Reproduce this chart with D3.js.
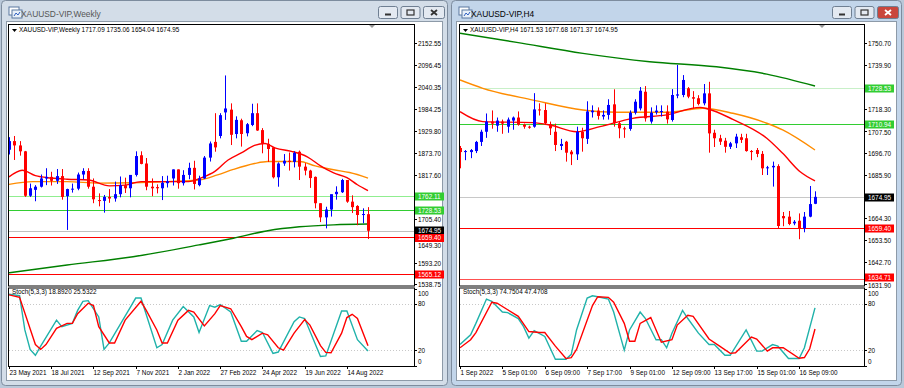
<!DOCTYPE html>
<html>
<head>
<meta charset="utf-8">
<script src="https://cdn.jsdelivr.net/npm/d3@7"></script>
<style>
  body { margin: 0; background: #b9c8d9; }
  svg { display: block; font-family: "Liberation Sans", Arial, sans-serif; }
</style>
</head>
<body>
<div id="plot"></div>
<script>
// ---- weekly chart data (23 May 2021 .. 11 Sep 2022) ----
const wkOpen  = [1881,1903,1892,1877,1764,1779,1787,1808,1812,1802,1814,1763,1780,1782,1818,1827,1787,1753,1751,1761,1757,1768,1791,1783,1817,1867,1846,1787,1786,1783,1796,1808,1831,1796,1817,1835,1791,1808,1861,1901,1916,1976,1983,1921,1956,1923,1944,1974,1931,1896,1887,1811,1846,1853,1850,1876,1838,1828,1812,1745,1709,1729,1768,1773,1804,1749,1738,1715,1717.09];
const wkHigh  = [1913,1916,1903,1878,1795,1791,1818,1834,1825,1832,1832,1782,1795,1823,1834,1834,1808,1770,1766,1781,1800,1813,1810,1815,1877,1877,1860,1808,1793,1814,1815,1831,1831,1829,1848,1853,1815,1865,1902,1974,1974,2070,1999,1966,1960,1949,1998,1999,1936,1909,1887,1849,1870,1874,1877,1879,1847,1830,1813,1745,1736,1767,1788,1807,1804,1765,1740,1732,1735.06];
const wkLow   = [1869,1855,1866,1761,1761,1750,1785,1791,1790,1794,1754,1677,1772,1778,1806,1782,1745,1737,1721,1746,1749,1760,1771,1760,1813,1844,1778,1763,1770,1753,1785,1790,1782,1790,1806,1780,1788,1807,1851,1876,1910,1957,1893,1910,1889,1915,1941,1929,1872,1850,1808,1787,1840,1828,1836,1804,1816,1784,1732,1697,1681,1711,1754,1771,1746,1720,1689,1694,1654.04];
const wkClose = [1903,1892,1877,1764,1783,1787,1808,1812,1802,1814,1761,1781,1782,1818,1827,1787,1755,1751,1761,1757,1768,1791,1783,1817,1865,1845,1787,1783,1783,1797,1801,1831,1796,1817,1835,1794,1808,1861,1897,1887,1969,1986,1919,1957,1921,1946,1974,1930,1897,1883,1811,1846,1853,1850,1873,1838,1828,1809,1745,1709,1729,1768,1774,1804,1749,1735,1715,1717.5,1674.95];

// moving averages: [bar index, price]
const wkMaRed    = [[0,1812],[2.5,1829],[5,1815],[8,1809],[11,1806],[15,1804],[19,1789],[22,1791],[25,1800],[29,1800],[34,1800],[36.5,1810],[39,1826],[41.5,1855],[44,1873],[46.5,1892],[48.5,1897],[50.5,1885],[53.5,1877],[56.5,1863],[59,1840],[61.5,1822],[64,1810],[66,1792],[68,1777]];
const wkMaOrange = [[0,1793],[4.5,1800],[11,1800],[17,1796],[23.5,1797],[30,1800],[36,1804],[39.5,1817],[42.5,1831],[46.5,1846],[49,1851],[55,1851],[58,1840],[61.5,1830],[64.5,1823],[68,1809]];
const wkMaGreen  = [[0,1568],[11,1588],[23.5,1609],[36,1639],[42.5,1656],[49,1675],[55,1685],[61.5,1690],[68,1692]];

// stochastic (5,3,3) on the weekly chart: index and value arrays
const wkKIdx = [0,2,3,4,5,6,9,10,12,13,14,15,17,18,19,23,24,25,28,29,31,33,35,36,38,39,40,42,44,45,47,48,50,51,54,55,56,59,60,63,64,66,68];
const wkK    = [92.7,90.6,46.2,20.9,13.3,25.1,58.9,50.4,54.7,71.6,83.4,84.2,63.1,20.9,29.3,75.8,87.6,87.6,23.0,27.2,58.9,76.6,63.1,42.8,77.9,75.8,79.2,69.5,31.4,31.4,45.4,42.8,15.8,17.5,56.8,63.1,61.0,11.6,12.4,70.7,70.7,33.5,18.89];
const wkDIdx = [0,2,5,6,7,9,11,12,13,15,16,17,19,20,22,25,26,28,29,30,32,34,35,37,39,40,42,44,45,46,48,49,51,52,54,56,57,59,60,61,63,64,65,66,68];
const wkD    = [91.8,88.5,27.2,20.9,27.2,48.3,54.7,54.7,67.3,80.9,77.9,50.4,29.3,29.3,58.9,83.4,71.6,46.2,29.3,29.3,58.9,71.6,69.5,51.3,67.3,77.9,73.7,50.4,37.8,33.5,42.0,39.9,23.0,20.0,42.0,59.7,52.5,25.9,17.0,16.6,42.0,62.3,66.5,61.0,25.53];

const wkPriceTicks = [2152.55,2096.45,2040.35,1984.25,1929.80,1873.70,1817.60,1705.40,1649.30,1593.20,1538.75];
const wkLevelPrices = [1762.11, 1728.53, 1674.95, 1659.40, 1565.12];
const wkDateIdx    = [0,8,16,24,32,40,48,56,64];
const wkDateText   = ["23 May 2021","18 Jul 2021","12 Sep 2021","7 Nov 2021","2 Jan 2022","27 Feb 2022","24 Apr 2022","19 Jun 2022","14 Aug 2022"];

// ---- H4 chart data (1 Sep 2022 17:00 .. 16 Sep 2022 21:00) ----
const h4Open  = [1699,1697,1697,1697.5,1702,1707,1712,1710,1712,1709.5,1712.5,1714,1710.5,1709.5,1709.5,1718,1717.7,1710.8,1707,1700,1702.1,1697.2,1695.9,1707,1703.5,1716.6,1717.4,1714.5,1715.3,1720.5,1711.2,1708.7,1708.4,1716.4,1718.5,1726.7,1712,1716.6,1716.8,1716.9,1712.8,1724.8,1725.1,1728.4,1724,1723.5,1721,1725.9,1706.5,1703.8,1702.6,1699.6,1701.3,1704.3,1703.8,1697.5,1698,1696.1,1689,1689.5,1690.1,1665.5,1665.2,1661.9,1663.2,1659.5,1665.2,1671.53];
const h4High  = [1700,1698,1698.5,1702.5,1708,1716,1717.5,1714,1713,1714,1714.5,1717,1711,1710,1726,1721,1721,1712,1711,1703.5,1702.5,1698,1709.5,1709,1722,1720,1719,1717.5,1723,1727.9,1712,1709.5,1717.5,1723,1729,1729.5,1719,1720,1720,1720,1728,1739.9,1734.9,1729,1727,1725,1730.5,1731.6,1708,1705.5,1704,1702,1706,1706,1706,1698,1699,1697.5,1690.2,1692.3,1691,1667.5,1668,1663.5,1666.8,1667.5,1680.3,1677.68];
const h4Low   = [1689,1693,1694,1696.5,1700,1704,1708.5,1707,1706,1706.5,1708,1710,1708.5,1708.5,1709,1715,1710.3,1705.4,1697.5,1698,1692.3,1690.6,1693.1,1697.2,1701,1714,1713,1713,1713,1709.5,1703.8,1704,1707.5,1715.5,1717.5,1712,1711,1715.5,1714.5,1711,1712,1723.5,1724,1723.5,1718.5,1720,1720,1696.7,1699.5,1700.5,1696.7,1698.5,1699,1701.5,1697.2,1693,1694.5,1685.7,1685.7,1680,1659.5,1660.5,1661,1661,1654.1,1657.5,1664.9,1671.37];
const h4Close = [1697,1697.5,1698,1702,1707,1712,1711,1712.5,1711,1713,1714,1710.5,1709.5,1709,1718,1717.5,1711.2,1708.7,1700.5,1701,1696.7,1695.9,1707,1703.8,1717,1717.4,1714.8,1715.3,1720.2,1711.2,1708.7,1708.2,1716.4,1721.8,1727.2,1713.6,1716.4,1717.4,1717.2,1713.1,1725.1,1725.4,1732.5,1724.3,1723.3,1720.7,1725.9,1706.2,1703.8,1702.1,1699.6,1701.3,1704.6,1703,1697.5,1697,1696.1,1689,1689.5,1690.2,1660.6,1664.4,1661.6,1662.7,1659.5,1665.2,1671.4,1674.95];

const h4MaRed    = [[0,1716.9],[4.3,1712.0],[13.8,1711.5],[17,1710.3],[22,1707.0],[26.4,1709.5],[32.6,1713.6],[39,1715.3],[45.3,1719.0],[46.8,1718.2],[51.5,1713.1],[57.9,1703.8],[60.9,1696.4],[64.2,1687.3],[67,1682.8]];
const h4MaOrange = [[0,1732.5],[4.3,1728.4],[13.8,1722.6],[23.2,1717.7],[29.6,1716.6],[39,1716.6],[45.8,1718.6],[51.5,1716.1],[57.9,1711.2],[60.9,1707.9],[67,1698.0]];
const h4MaGreen  = [[0,1755.5],[10.7,1751.0],[23.2,1745.6],[35.8,1741.5],[48.4,1739.0],[57.9,1735.4],[67,1729.5]];

const h4KIdx = [0,2,3,5,6,8,9,11,12,13,14,16,18,20,21,22,24,25,26,28,29,31,32,34,35,37,38,39,40,42,43,45,47,48,50,51,54,56,57,59,60,62,64,65,67];
const h4K    = [27.2,39.9,54.7,86.3,83.4,69.4,68.6,61.0,50.4,35.6,45.4,37.8,8.2,8.2,14.5,46.2,87.6,90.6,89.3,86.3,69.4,20.0,46.2,69.4,61.0,33.5,33.5,23.0,42.0,71.6,61.0,42.0,27.2,27.2,13.3,13.3,46.2,18.7,18.7,27.2,25.1,9.0,9.0,23.0,74.75];
const h4DIdx = [0,2,3,6,7,9,11,13,15,16,18,20,21,22,25,26,28,29,31,32,33,34,36,38,40,41,43,44,47,49,51,52,55,56,58,59,61,64,65,66,67];
const h4D    = [23.0,33.5,42.8,82.1,80.9,72.4,63.9,44.1,42.8,42.8,25.1,9.0,10.3,20.9,77.9,89.3,88.5,82.1,54.7,31.4,31.4,54.7,62.3,30.2,33.5,52.5,65.2,63.9,34.4,25.1,15.8,16.6,36.9,34.4,18.7,23.0,23.0,9.4,10.3,21.7,47.47];

const h4PriceTicks = [1750.70,1739.90,1718.30,1707.50,1696.70,1685.90,1664.30,1653.50,1642.70,1631.90];
const h4LevelPrices = [1728.53, 1710.94, 1674.95, 1659.40, 1634.71];
const h4DateIdx    = [0,8,16,24,32,40,48,56,64];
const h4DateText   = ["1 Sep 2022","5 Sep 01:00","6 Sep 09:00","7 Sep 17:00","9 Sep 01:00","12 Sep 09:00","13 Sep 17:00","15 Sep 01:00","16 Sep 09:00"];

const svg = d3.select("#plot").append("svg")
    .attr("width", 904)
    .attr("height", 388);

svg.append("rect").attr("width", 904).attr("height", 388).attr("fill", "#b9c8d9");

const FONT = 6.4;

// window frame with title bar
function drawWindow(x0, w, title, active) {
  const g = svg.append("g");
  g.append("rect").attr("x", x0 + 0.5).attr("y", 0.5).attr("width", w).attr("height", 385)
    .attr("rx", 4).attr("fill", active ? "#c2d5ea" : "#d3dde8").attr("stroke", "#7d8c9e");
  // client area
  g.append("rect").attr("x", x0 + 5.5).attr("y", 21.5).attr("width", w - 10).attr("height", 359)
    .attr("fill", "#ffffff").attr("stroke", "#8d9aa8");
  // icon
  const ic = g.append("g").attr("transform", `translate(${x0 + 8},7)`);
  ic.append("rect").attr("width", 10).attr("height", 8).attr("fill", "#ffffff").attr("stroke", "#5a78a0");
  ic.append("rect").attr("x", 3).attr("y", 3).attr("width", 10).attr("height", 8).attr("fill", "#e8f0f8").attr("stroke", "#5a78a0");
  ic.append("path").attr("d", "M5,9 L7,6 L9,8 L11,5").attr("fill", "none").attr("stroke", "#3060c0");
  g.append("text").attr("x", x0 + 20).attr("y", 16.5).attr("font-size", 8.4)
    .attr("fill", active ? "#000000" : "#555555").text(title);
  // buttons
  const bx = x0 + w - 69;
  [0, 1, 2].forEach(k => {
    const bw = k === 2 ? 21 : 19;
    const xx = bx + k * 22.5;
    const isClose = k === 2;
    g.append("rect").attr("x", xx + 0.5).attr("y", 6.5).attr("width", bw).attr("height", 12).attr("rx", 2)
      .attr("fill", isClose && active ? "#c9463d" : "#e3e9f1").attr("stroke", "#6f7f92");
    const cx = xx + bw / 2 + 0.5, cy = 12.5;
    if (k === 0) {
      g.append("rect").attr("x", cx - 3).attr("y", cy + 1).attr("width", 6).attr("height", 2).attr("fill", "#333");
    } else if (k === 1) {
      g.append("rect").attr("x", cx - 3.5).attr("y", cy - 2.5).attr("width", 7).attr("height", 5)
        .attr("fill", "none").attr("stroke", "#333").attr("stroke-width", 1.2);
    } else {
      g.append("path").attr("d", `M${cx - 3},${cy - 2.5}L${cx + 3},${cy + 2.5}M${cx + 3},${cy - 2.5}L${cx - 3},${cy + 2.5}`)
        .attr("stroke", active ? "#ffffff" : "#333").attr("stroke-width", 1.8);
    }
  });
}

function drawChart(c) {
  const g = svg.append("g");
  const mainTop = 24, mainBot = 285.5, stTop = 287.5, stBot = 366;
  const x = d3.scaleLinear().domain([0, c.nBars - 1]).range([c.x0, c.x1]);
  const y = d3.scaleLinear().domain(c.yDomain).range([284.3, 43]);
  const ys = d3.scaleLinear().domain([0, 100]).range([stBot - 0.5, stTop + 1]);

  const clipId = "clip" + c.id;
  g.append("clipPath").attr("id", clipId).append("rect")
    .attr("x", c.left + 1).attr("y", mainTop + 1).attr("width", c.axis - c.left - 1).attr("height", mainBot - mainTop - 1);
  const clipS = "clipS" + c.id;
  g.append("clipPath").attr("id", clipS).append("rect")
    .attr("x", c.left + 1).attr("y", stTop + 1).attr("width", c.axis - c.left - 1).attr("height", stBot - stTop - 1);

  // label boxes of the levels, used to keep tick labels clear of them
  const boxes = c.levels.map((v, k) => ({v, yy: Math.round(y(v)) + 0.5 + c.levelShift[k]}));

  // price ticks
  const ticks = g.append("g");
  c.priceTicks.forEach(v => {
    const yy = Math.round(y(v)) + 0.5;
    let ty = yy;
    boxes.forEach(b => {
      if (Math.abs(b.yy - ty) < 7.7) ty = b.yy + (ty > b.yy ? 7.8 : -7.8);
    });
    ticks.append("line").attr("x1", c.axis).attr("x2", c.axis + 3).attr("y1", yy).attr("y2", yy).attr("stroke", "#000");
    ticks.append("text").attr("x", c.axis + 4).attr("y", ty).attr("dy", "0.35em").attr("font-size", FONT).text(v.toFixed(2));
  });

  const plot = g.append("g").attr("clip-path", `url(#${clipId})`);

  // horizontal levels
  c.levels.forEach((v, k) => {
    const yy = Math.round(y(v)) + 0.5;
    plot.append("line").attr("x1", c.left).attr("x2", c.axis).attr("y1", yy).attr("y2", yy)
      .attr("stroke", c.levelLine[k]).attr("stroke-width", 1.2);
  });

  // moving averages
  const line = d3.line().x(d => x(d[0])).y(d => y(d[1])).curve(d3.curveMonotoneX);
  [[c.maGreen, "#008000"], [c.maOrange, "#ff8c00"], [c.maRed, "#ff0000"]].forEach(([pts, col]) => {
    plot.append("path").attr("d", line(pts)).attr("fill", "none").attr("stroke", col).attr("stroke-width", 1.4);
  });

  // candles
  const bars = d3.range(c.o.length).map(i => ({i, o: c.o[i], h: c.h[i], l: c.l[i], cl: c.c[i]}));
  const col = d => d.cl >= d.o ? "#0000ff" : "#ff0000";
  plot.selectAll(".wick").data(bars).join("line")
    .attr("x1", d => Math.round(x(d.i)) + 0.5).attr("x2", d => Math.round(x(d.i)) + 0.5)
    .attr("y1", d => y(d.h)).attr("y2", d => y(d.l))
    .attr("stroke", col).attr("stroke-width", 1);
  plot.selectAll(".body").data(bars).join("rect")
    .attr("x", d => Math.round(x(d.i)) - 1)
    .attr("y", d => y(Math.max(d.o, d.cl)))
    .attr("width", 3)
    .attr("height", d => Math.max(1, Math.abs(y(d.o) - y(d.cl))))
    .attr("fill", col);

  // level labels on the price scale
  boxes.forEach((b, k) => {
    g.append("rect").attr("x", c.axis + 1).attr("y", b.yy - 4).attr("width", 29).attr("height", 8).attr("fill", c.levelBox[k]);
    g.append("text").attr("x", c.axis + 4).attr("y", b.yy).attr("dy", "0.35em").attr("font-size", FONT)
      .attr("fill", "#ffffff").text(b.v.toFixed(2));
  });

  // pane frames
  g.append("rect").attr("x", c.left + 0.5).attr("y", mainTop + 0.5).attr("width", c.axis - c.left).attr("height", mainBot - mainTop)
    .attr("fill", "none").attr("stroke", "#000");
  g.append("rect").attr("x", c.left + 0.5).attr("y", stTop + 0.5).attr("width", c.axis - c.left).attr("height", stBot - stTop)
    .attr("fill", "none").attr("stroke", "#000");

  // header
  g.append("path").attr("d", `M${c.left + 4},${mainTop + 5}h5l-2.5,3z`).attr("fill", "#000");
  g.append("text").attr("x", c.left + 11).attr("y", mainTop + 7.5).attr("dy", "0.1em").attr("font-size", FONT).text(c.header);
  // shift marker
  g.append("path").attr("d", `M${c.axis - 45},${mainTop + 1}h6l-3,3z`).attr("fill", "#999");

  // stochastic pane
  const st = g.append("g");
  [80, 20].forEach(v => {
    st.append("line").attr("x1", c.left + 1).attr("x2", c.axis).attr("y1", Math.round(ys(v)) + 0.5).attr("y2", Math.round(ys(v)) + 0.5)
      .attr("stroke", "#c8c8c8").attr("stroke-dasharray", "1,2");
  });
  [[100, 293.5], [80, 303.5], [20, 351], [0, 362]].forEach(([v, yy]) => {
    st.append("line").attr("x1", c.axis).attr("x2", c.axis + 3).attr("y1", Math.round(ys(v)) + 0.5).attr("y2", Math.round(ys(v)) + 0.5).attr("stroke", "#000");
    st.append("text").attr("x", c.axis + 4).attr("y", yy).attr("dy", "0.35em").attr("font-size", FONT).text(v);
  });
  const sl = d3.line().x(d => x(d[0])).y(d => ys(d[1]));
  const kPts = c.kIdx.map((i, k) => [i, c.k[k]]);
  const dPts = c.dIdx.map((i, k) => [i, c.d[k]]);
  const sp = st.append("g").attr("clip-path", `url(#${clipS})`);
  sp.append("path").attr("d", sl(kPts)).attr("fill", "none").attr("stroke", "#20b2aa").attr("stroke-width", 1.4);
  sp.append("path").attr("d", sl(dPts)).attr("fill", "none").attr("stroke", "#ff0000").attr("stroke-width", 1.4);
  st.append("text").attr("x", c.left + 4).attr("y", stTop + 6).attr("dy", "0.1em").attr("font-size", FONT).text(c.stochHeader);

  // time axis
  c.dateIdx.forEach((i, k) => {
    const xx = Math.round(x(i)) + 0.5;
    g.append("line").attr("x1", xx).attr("x2", xx).attr("y1", stBot).attr("y2", stBot + 3).attr("stroke", "#000");
    g.append("text").attr("x", xx).attr("y", 373).attr("dy", "0.35em").attr("font-size", FONT).text(c.dateText[k]);
  });
}

drawWindow(1, 446, "XAUUSD-VIP,Weekly", false);
drawWindow(451, 450, "XAUUSD-VIP,H4", true);

drawChart({
  id: "wk", left: 8, axis: 414, x0: 9, x1: 368, nBars: 69,
  yDomain: [1538.75, 2152.55],
  o: wkOpen, h: wkHigh, l: wkLow, c: wkClose,
  maRed: wkMaRed, maOrange: wkMaOrange, maGreen: wkMaGreen,
  levels: wkLevelPrices,
  levelLine: ["#90ee90", "#32cd32", "#c0c0c0", "#ff0000", "#ff0000"],
  levelBox: ["#32cd32", "#32cd32", "#000000", "#ff0000", "#ff0000"],
  levelShift: [0, 0, -1, 0.5, 0],
  priceTicks: wkPriceTicks,
  kIdx: wkKIdx, k: wkK, dIdx: wkDIdx, d: wkD,
  dateIdx: wkDateIdx, dateText: wkDateText,
  header: "XAUUSD-VIP,Weekly  1717.09 1735.06 1654.04 1674.95",
  stochHeader: "Stoch(5,3,3) 18.8920 25.5322"
});

drawChart({
  id: "h4", left: 459, axis: 864, x0: 460, x1: 815, nBars: 68,
  yDomain: [1631.90, 1750.70],
  o: h4Open, h: h4High, l: h4Low, c: h4Close,
  maRed: h4MaRed, maOrange: h4MaOrange, maGreen: h4MaGreen,
  levels: h4LevelPrices,
  levelLine: ["#c8f0c8", "#32cd32", "#c8c8c8", "#ff0000", "#ff5050"],
  levelBox: ["#32cd32", "#32cd32", "#000000", "#ff0000", "#ff0000"],
  levelShift: [0, 0, 0, 0, -2],
  priceTicks: h4PriceTicks,
  kIdx: h4KIdx, k: h4K, dIdx: h4DIdx, d: h4D,
  dateIdx: h4DateIdx, dateText: h4DateText,
  header: "XAUUSD-VIP,H4  1671.53 1677.68 1671.37 1674.95",
  stochHeader: "Stoch(5,3,3) 74.7504 47.4708"
});
</script>
</body>
</html>
